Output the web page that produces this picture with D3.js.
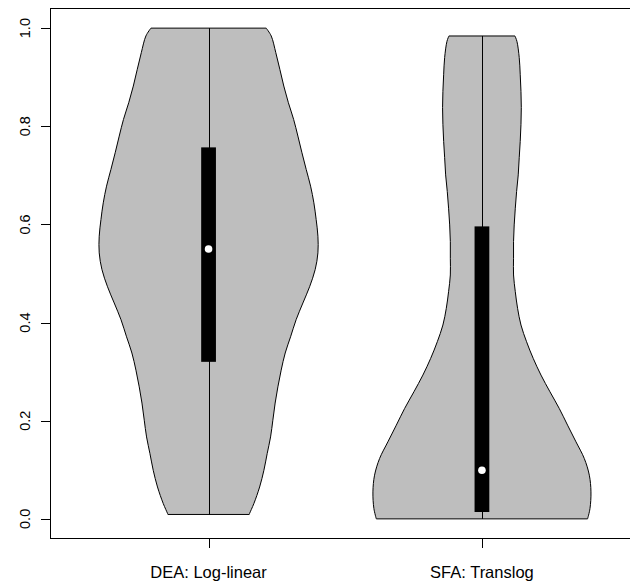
<!DOCTYPE html>
<html>
<head>
<meta charset="utf-8">
<script src="https://cdn.jsdelivr.net/npm/d3@7"></script>
<style>
  body { margin: 0; background: #fff; }
  svg { display: block; }
  text { font-family: "Liberation Sans", Arial, sans-serif; fill: #000; }
</style>
</head>
<body>
<svg width="630" height="586"></svg>
<script>
// groups
const categories = ["DEA: Log-linear", "SFA: Translog"];
const yTicks = [0, 0.2, 0.4, 0.6, 0.8, 1.0];

// density outline: value -> relative half width (max = 1)
const deaValues  = [0.009, 0.011, 0.031, 0.065, 0.099, 0.133, 0.167, 0.201, 0.236, 0.269, 0.303, 0.338, 0.371, 0.406, 0.440, 0.473, 0.508, 0.542, 0.576, 0.610, 0.644, 0.678, 0.712, 0.746, 0.780, 0.814, 0.848, 0.882, 0.916, 0.950, 0.984, 1.0];
const deaDensity = [0.372, 0.375, 0.414, 0.467, 0.506, 0.536, 0.567, 0.588, 0.609, 0.634, 0.664, 0.701, 0.750, 0.801, 0.863, 0.924, 0.975, 1.0, 1.0, 0.984, 0.963, 0.933, 0.893, 0.854, 0.817, 0.778, 0.730, 0.688, 0.652, 0.615, 0.573, 0.527];

const sfaValues  = [0.0, 0.021, 0.055, 0.089, 0.123, 0.157, 0.191, 0.225, 0.259, 0.293, 0.327, 0.361, 0.395, 0.429, 0.463, 0.497, 0.531, 0.565, 0.599, 0.633, 0.667, 0.701, 0.736, 0.769, 0.804, 0.838, 0.871, 0.906, 0.940, 0.973, 0.984];
const sfaDensity = [0.966, 0.988, 0.997, 0.982, 0.936, 0.860, 0.783, 0.707, 0.622, 0.540, 0.469, 0.408, 0.357, 0.326, 0.305, 0.289, 0.289, 0.289, 0.295, 0.305, 0.317, 0.332, 0.341, 0.350, 0.357, 0.360, 0.357, 0.350, 0.341, 0.320, 0.302];

// box stats
const mins    = [0.009, 0.0];
const q1s     = [0.320, 0.014];
const medians = [0.550, 0.099];
const q3s     = [0.757, 0.596];
const maxs    = [1.0, 0.984];

const svg = d3.select("svg");

const x = d3.scaleLinear().domain([0.42, 2.58]).range([50, 640.5]);
const y = d3.scaleLinear().domain([-0.04, 1.04]).range([538.5, 8.5]);

const violins = [
  { values: deaValues, dens: deaDensity },
  { values: sfaValues, dens: sfaDensity }
];

const wex = 0.4;
const boxHalf = 0.027;

violins.forEach((vd, i) => {
  const c = i + 1;
  const pts = vd.values.map((v, j) => ({ v: v, w: vd.dens[j] }));
  const area = d3.area()
    .curve(d3.curveCatmullRom)
    .y(d => y(d.v))
    .x0(d => x(c - d.w * wex))
    .x1(d => x(c + d.w * wex));

  svg.append("path")
    .attr("d", area(pts))
    .attr("fill", "#bebebe")
    .attr("stroke", "#000")
    .attr("stroke-width", 1);

  svg.append("line")
    .attr("x1", Math.round(x(c)) + 0.5).attr("x2", Math.round(x(c)) + 0.5)
    .attr("y1", y(mins[i])).attr("y2", y(maxs[i]))
    .attr("stroke", "#000").attr("stroke-width", 1);

  svg.append("rect")
    .attr("x", x(c - boxHalf))
    .attr("width", x(c + boxHalf) - x(c - boxHalf))
    .attr("y", y(q3s[i]))
    .attr("height", y(q1s[i]) - y(q3s[i]))
    .attr("fill", "#000");

  svg.append("circle")
    .attr("cx", x(c)).attr("cy", y(medians[i]))
    .attr("r", 3.8)
    .attr("fill", "#fff");
});

// frame
svg.append("rect")
  .attr("x", 50.5).attr("y", 8.5)
  .attr("width", x.range()[1] - 50.5)
  .attr("height", 530)
  .attr("fill", "none")
  .attr("stroke", "#000")
  .attr("stroke-width", 1);

// y axis
const yAxis = svg.append("g");
yAxis.selectAll("line")
  .data(yTicks)
  .join("line")
  .attr("x1", 41).attr("x2", 50.5)
  .attr("y1", d => Math.round(y(d)) + 0.5)
  .attr("y2", d => Math.round(y(d)) + 0.5)
  .attr("stroke", "#000");
yAxis.selectAll("text")
  .data(yTicks)
  .join("text")
  .attr("transform", d => `translate(29.5,${y(d)}) rotate(-90)`)
  .attr("text-anchor", "middle")
  .attr("font-size", 14.5)
  .text(d => d3.format(".1f")(d));

// x axis
const xAxis = svg.append("g");
xAxis.selectAll("line")
  .data(categories)
  .join("line")
  .attr("x1", (d, i) => Math.round(x(i + 1)) + 0.5)
  .attr("x2", (d, i) => Math.round(x(i + 1)) + 0.5)
  .attr("y1", 538.5).attr("y2", 548)
  .attr("stroke", "#000");
xAxis.selectAll("text")
  .data(categories)
  .join("text")
  .attr("x", (d, i) => x(i + 1))
  .attr("y", 578)
  .attr("text-anchor", "middle")
  .attr("font-size", 16.5)
  .text(d => d);
</script>
</body>
</html>
